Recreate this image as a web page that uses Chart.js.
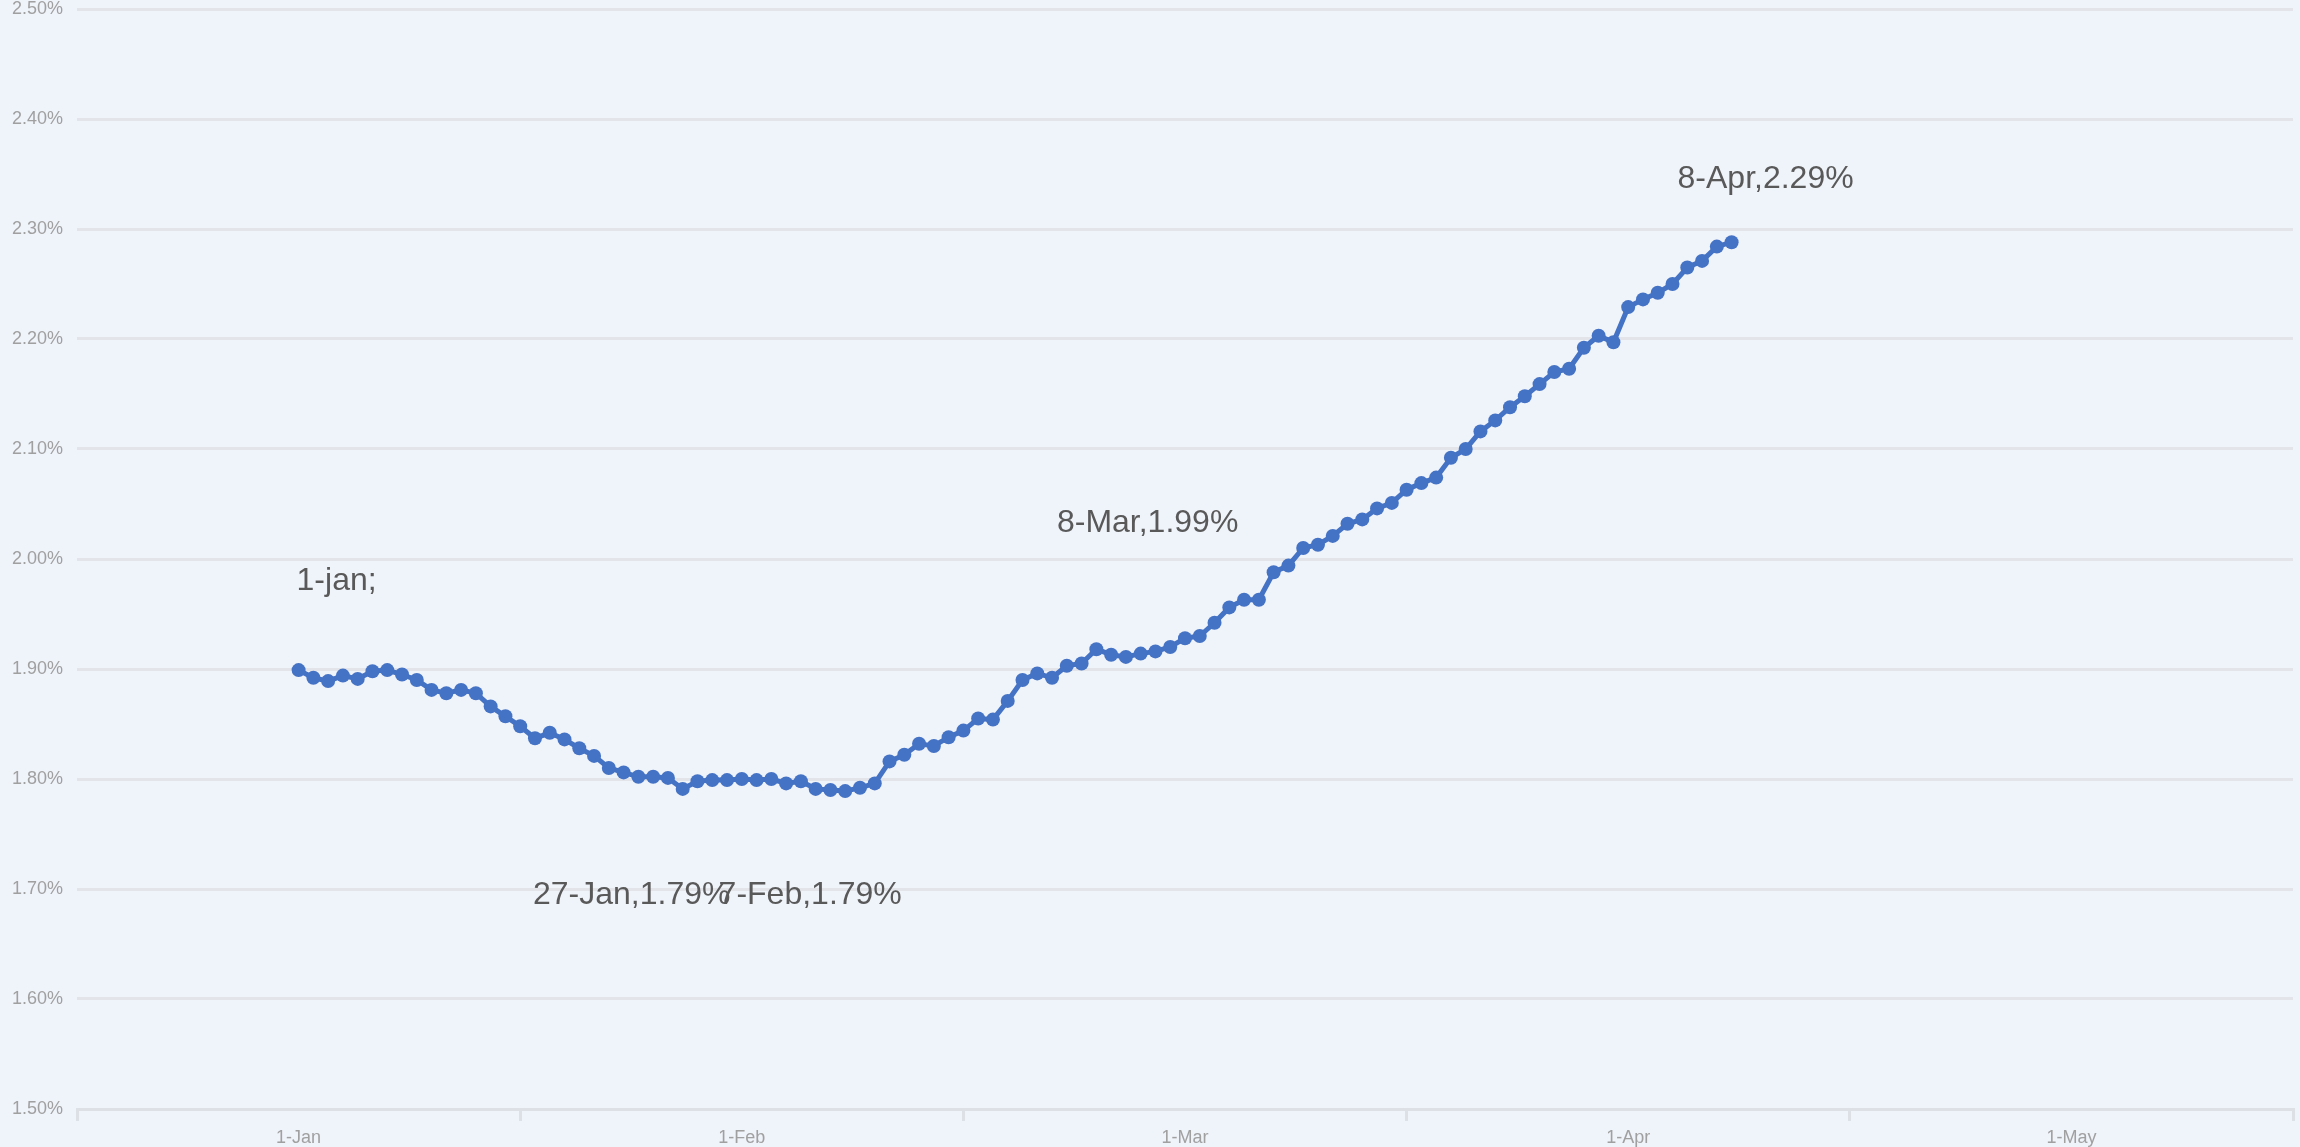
<!DOCTYPE html>
<html>
<head>
<meta charset="utf-8">
<script src="https://cdn.jsdelivr.net/npm/chart.js@4.4.1/dist/chart.umd.min.js"></script>
<style>
    html, body { margin: 0; padding: 0; background: #eff3fa; overflow: hidden; }
    canvas { display: block; }
</style>
</head>
<body>
<canvas id="rateChart" width="2300" height="1147"></canvas>
<script>
// daily rate (%) from 1-Jan to 8-Apr, one value per day
var rates = [
    1.899, 1.892, 1.889, 1.894, 1.891, 1.898, 1.899, 1.895, 1.890, 1.881,
    1.878, 1.881, 1.878, 1.866, 1.857, 1.848, 1.837, 1.842, 1.836, 1.828,
    1.821, 1.810, 1.806, 1.802, 1.802, 1.801, 1.791, 1.798, 1.799, 1.799,
    1.800, 1.799, 1.800, 1.796, 1.798, 1.791, 1.790, 1.789, 1.792, 1.796,
    1.816, 1.822, 1.832, 1.830, 1.838, 1.844, 1.855, 1.854, 1.871, 1.890,
    1.896, 1.892, 1.903, 1.905, 1.918, 1.913, 1.911, 1.914, 1.916, 1.920,
    1.928, 1.930, 1.942, 1.956, 1.963, 1.963, 1.988, 1.994, 2.010, 2.013,
    2.021, 2.032, 2.036, 2.046, 2.051, 2.063, 2.069, 2.074, 2.092, 2.100,
    2.116, 2.126, 2.138, 2.148, 2.159, 2.170, 2.173, 2.192, 2.203, 2.197,
    2.229, 2.236, 2.242, 2.250, 2.265, 2.271, 2.284, 2.288
];

// x axis: day number since 1-Jan
var monthLabels = ['1-Jan', '1-Feb', '1-Mar', '1-Apr', '1-May'];
var monthTickDays = [0, 30, 60, 90, 120];
var xMin = -15, xMax = 135;
var yMin = 1.5, yMax = 2.5, yStep = 0.1;

// data labels written on the chart
var noteDays = [0, 26, 37, 66, 97];
var noteTexts = ['1-jan;', '27-Jan,1.79%', '7-Feb,1.79%', '8-Mar,1.99%', '8-Apr,2.29%'];
var noteOffsets = [[38, -89], [-51, 106], [-35, 104], [-126, -49], [34, -63]];

var points = rates.map(function (v, i) { return { x: i, y: v }; });

var background = {
    id: 'background',
    beforeDraw: function (chart) {
        var c = chart.ctx;
        c.save();
        c.fillStyle = '#eff3fa';
        c.fillRect(0, 0, chart.width, chart.height);
        c.restore();
    }
};

var notes = {
    id: 'notes',
    afterDatasetsDraw: function (chart) {
        var c = chart.ctx;
        var xs = chart.scales.x, ys = chart.scales.y;
        c.save();
        c.font = '32px "Liberation Sans", Arial, sans-serif';
        c.fillStyle = '#595959';
        c.textAlign = 'center';
        c.textBaseline = 'middle';
        noteDays.forEach(function (d, k) {
            var px = xs.getPixelForValue(d) + noteOffsets[k][0];
            var py = ys.getPixelForValue(rates[d]) + noteOffsets[k][1];
            c.fillText(noteTexts[k], px, py);
        });
        c.restore();
    }
};

var chartEl = document.getElementById('rateChart').getContext('2d');

var rateChart = new Chart(chartEl, {
    type: 'line',
    data: {
        datasets: [{
            label: 'Rate',
            data: points,
            borderColor: '#4472c4',
            backgroundColor: '#4472c4',
            borderWidth: 5,
            pointRadius: 7,
            pointBorderWidth: 0,
            pointBackgroundColor: '#4472c4',
            tension: 0
        }]
    },
    options: {
        responsive: false,
        animation: false,
        devicePixelRatio: 1,
        layout: { padding: { top: 9, right: 1, left: 0, bottom: 0 } },
        plugins: {
            legend: { display: false },
            tooltip: { enabled: false }
        },
        scales: {
            x: {
                type: 'linear',
                min: xMin,
                max: xMax,
                afterBuildTicks: function (scale) {
                    var t = [];
                    for (var v = xMin; v <= xMax; v += 15) t.push({ value: v });
                    scale.ticks = t;
                },
                afterFit: function (scale) { scale.height = 38; },
                ticks: {
                    autoSkip: false,
                    maxRotation: 0,
                    padding: 6,
                    color: '#a0a0a0',
                    font: { family: '"Liberation Sans", Arial, sans-serif', size: 18 },
                    callback: function (v) {
                        var k = monthTickDays.indexOf(v);
                        return k >= 0 ? monthLabels[k] : '';
                    }
                },
                grid: {
                    drawOnChartArea: false,
                    drawTicks: true,
                    tickLength: 12,
                    lineWidth: 3,
                    tickColor: function (ctx) {
                        return ctx.tick && monthTickDays.indexOf(ctx.tick.value) < 0 ? '#dde0e5' : 'rgba(0,0,0,0)';
                    }
                },
                border: { display: true, color: '#dde0e5', width: 3 }
            },
            y: {
                min: yMin,
                max: yMax,
                afterFit: function (scale) {
                    scale.width = 77;
                    scale.paddingTop = 0;
                    scale.paddingBottom = 0;
                },
                ticks: {
                    stepSize: yStep,
                    padding: 14,
                    color: '#a0a0a0',
                    font: { family: '"Liberation Sans", Arial, sans-serif', size: 18, lineHeight: 1 },
                    callback: function (v) { return v.toFixed(2) + '%'; }
                },
                grid: {
                    color: '#e2e4e9',
                    lineWidth: 3,
                    drawTicks: false
                },
                border: { display: false }
            }
        }
    },
    plugins: [background, notes]
});
</script>
</body>
</html>
